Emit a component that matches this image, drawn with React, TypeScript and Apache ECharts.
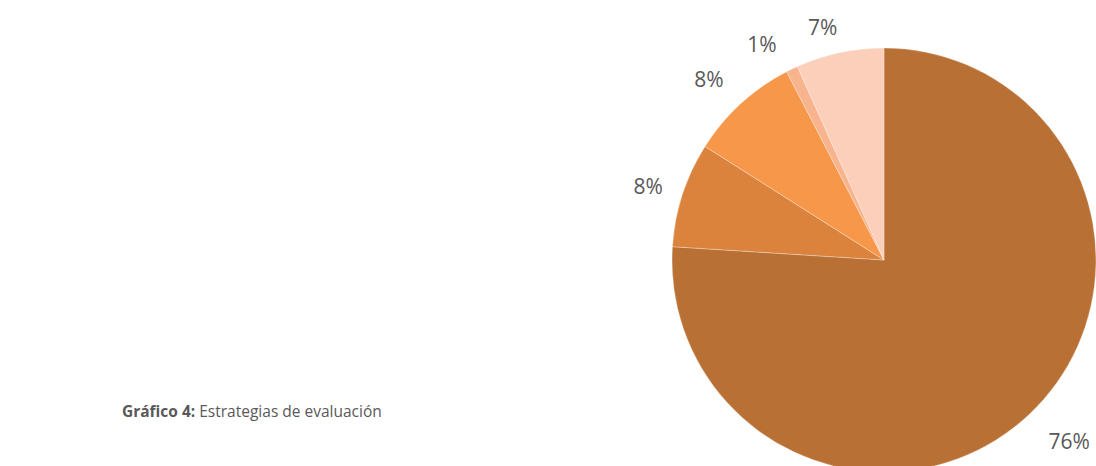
import React, { useEffect, useRef } from "react";
import * as echarts from "echarts";

const categories = ["A", "B", "C", "D", "E"];
const values = [76, 8, 8.4, 0.9, 6.7];
const colors = ["#B97034", "#DB833D", "#F7974A", "#F8B48D", "#FBCFBA"];
const labelLineLengths = [34, 14, 28, 28, 26];
const labelShifts = [[-11, 2], [-3, -4], [3, -4], [10, -6], [10, 0]];
const captionBold = "Gráfico 4:";
const captionText = " Estrategias de evaluación";

export default function App() {
  const ref = useRef<HTMLDivElement>(null);
  useEffect(() => {
    if (!ref.current) return;
    const chart = echarts.init(ref.current, undefined, { renderer: "svg" });
    chart.setOption({
      animation: false,
      title: {
        text: `{b|${captionBold}}{r|${captionText}}`,
        left: 122,
        top: 403,
        padding: 0,
        textStyle: {
          fontWeight: "normal",
          rich: {
            b: { fontFamily: "Open Sans", fontSize: 15.5, fontWeight: "bold", color: "#595959" },
            r: { fontFamily: "Open Sans", fontSize: 15.5, fontWeight: "normal", color: "#595959" },
          },
        },
      },
      series: [
        {
          type: "pie",
          center: [884, 260],
          radius: 212,
          startAngle: 90,
          clockwise: true,
          data: categories.map((c, i) => ({
            name: c,
            value: values[i],
            itemStyle: { color: colors[i] },
            labelLine: { show: false, length: labelLineLengths[i], length2: 2 },
          })),
          itemStyle: { borderColor: "#ffffff", borderWidth: 0.3 },
          label: {
            show: true,
            position: "outside",
            overflow: "none",
            formatter: (p: any) => Math.round(p.value) + "%",
            fontFamily: "Open Sans",
            fontSize: 21,
            color: "#595959",
          },
          labelLayout: (p: any) => ({
            dx: labelShifts[p.dataIndex][0],
            dy: labelShifts[p.dataIndex][1],
          }),
          labelLine: { show: false },
          emphasis: { disabled: true },
        },
      ],
    });
    return () => chart.dispose();
  }, []);
  return (
    <div
      ref={ref}
      style={{ position: "absolute", left: 0, top: 0, width: 1096, height: 466 }}
    />
  );
}
